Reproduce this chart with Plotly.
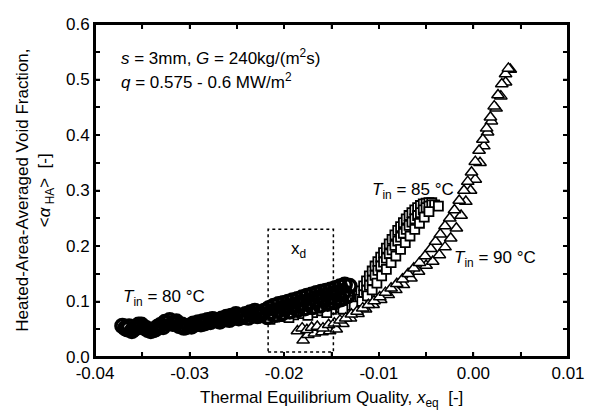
import plotly.graph_objects as go

# 80 C data (circles)
x_80 = [-0.0371, -0.0366, -0.0361, -0.0356, -0.0351, -0.0346, -0.0341, -0.0336, -0.0331, -0.0326,
        -0.0321, -0.0316, -0.0311, -0.0306, -0.0301, -0.0296, -0.0291, -0.0286, -0.0281, -0.0276,
        -0.0271, -0.0266, -0.0261, -0.0256, -0.0251, -0.0246, -0.0241, -0.0236, -0.0231, -0.0226,
        -0.0221, -0.0216, -0.0211, -0.0206, -0.0201, -0.0196, -0.0191, -0.0186, -0.0181, -0.0176,
        -0.0171, -0.0166, -0.0161, -0.0156, -0.0151, -0.0146, -0.0141, -0.0136, -0.0131]
y_80 = [0.056, 0.050, 0.047, 0.054, 0.058, 0.052, 0.047, 0.050, 0.057, 0.063,
        0.066, 0.062, 0.056, 0.053, 0.056, 0.060, 0.062, 0.064, 0.066, 0.068,
        0.066, 0.069, 0.072, 0.074, 0.077, 0.074, 0.077, 0.080, 0.083, 0.079,
        0.083, 0.088, 0.092, 0.095, 0.097, 0.099, 0.102, 0.104, 0.107, 0.110,
        0.112, 0.115, 0.117, 0.119, 0.121, 0.124, 0.127, 0.130, 0.128]
x_80b = [-0.0368, -0.0358, -0.0348, -0.0338, -0.0328, -0.0318, -0.0308, -0.0298, -0.0288, -0.0278,
         -0.0268, -0.0258, -0.0248, -0.0238, -0.0228, -0.0218, -0.0210, -0.0202, -0.0194, -0.0186,
         -0.0178, -0.0170, -0.0162, -0.0154, -0.0147, -0.0140, -0.0133]
y_80b = [0.052, 0.051, 0.053, 0.049, 0.054, 0.060, 0.058, 0.055, 0.059, 0.063,
         0.064, 0.067, 0.070, 0.071, 0.074, 0.072, 0.076, 0.079, 0.082, 0.085,
         0.088, 0.090, 0.093, 0.096, 0.099, 0.104, 0.110]
x_80c = [-0.0364, -0.0354, -0.0344, -0.0334, -0.0324, -0.0314, -0.0304, -0.0294, -0.0284, -0.0274,
         -0.0264, -0.0254, -0.0244, -0.0234, -0.0224, -0.0214, -0.0206, -0.0198, -0.0190, -0.0182,
         -0.0174, -0.0166, -0.0158, -0.0150, -0.0143, -0.0137]
y_80c = [0.055, 0.058, 0.049, 0.054, 0.061, 0.064, 0.054, 0.059, 0.061, 0.067,
         0.068, 0.071, 0.073, 0.076, 0.077, 0.081, 0.084, 0.088, 0.092, 0.096,
         0.099, 0.103, 0.106, 0.109, 0.113, 0.117]

# 85 C data (squares)
x_85 = [-0.0262, -0.0250, -0.0240, -0.0230, -0.0220, -0.0210, -0.0200, -0.0190, -0.0180, -0.0170,
        -0.0160, -0.0150, -0.0140, -0.0132, -0.0125, -0.0120, -0.0116, -0.0113, -0.0110, -0.0107,
        -0.0104, -0.0101, -0.0098, -0.0095, -0.0092, -0.0089, -0.0086, -0.0083, -0.0080, -0.0077,
        -0.0074, -0.0071, -0.0068, -0.0065, -0.0062, -0.0059, -0.0056, -0.0053, -0.0050, -0.0047,
        -0.0044, -0.0041, -0.0037]
y_85 = [0.066, 0.068, 0.068, 0.070, 0.071, 0.072, 0.073, 0.076, 0.078, 0.080,
        0.083, 0.086, 0.089, 0.093, 0.098, 0.104, 0.112, 0.120, 0.129, 0.138,
        0.147, 0.156, 0.164, 0.171, 0.178, 0.186, 0.193, 0.201, 0.209, 0.216,
        0.223, 0.230, 0.237, 0.243, 0.249, 0.255, 0.260, 0.265, 0.269, 0.272,
        0.274, 0.274, 0.272]
x_85b = [-0.0215, -0.0195, -0.0175, -0.0155, -0.0138, -0.0126, -0.0118, -0.0112, -0.0107, -0.0102,
         -0.0097, -0.0092, -0.0087, -0.0082, -0.0077, -0.0072, -0.0067, -0.0062, -0.0057, -0.0052,
         -0.0047]
y_85b = [0.068, 0.071, 0.075, 0.080, 0.086, 0.092, 0.100, 0.110, 0.121, 0.133,
         0.146, 0.158, 0.170, 0.182, 0.194, 0.206, 0.218, 0.230, 0.241, 0.252,
         0.262]
x_85c = [-0.0135, -0.0128, -0.0123, -0.0119, -0.0116, -0.0113, -0.0110, -0.0107, -0.0104, -0.0101,
         -0.0098, -0.0095, -0.0092, -0.0089, -0.0086, -0.0083, -0.0080, -0.0077, -0.0074, -0.0071,
         -0.0068, -0.0065, -0.0062, -0.0059, -0.0056, -0.0053, -0.0050, -0.0047, -0.0044]
y_85c = [0.095, 0.102, 0.110, 0.119, 0.128, 0.137, 0.146, 0.155, 0.164, 0.172,
         0.180, 0.188, 0.196, 0.204, 0.212, 0.220, 0.228, 0.235, 0.242, 0.249,
         0.255, 0.260, 0.265, 0.269, 0.273, 0.276, 0.277, 0.278, 0.278]

# 90 C data (triangles)
x_90 = [-0.0186, -0.0181, -0.0176, -0.0171, -0.0165, -0.0159, -0.0153, -0.0147, -0.0141, -0.0135,
        -0.0129, -0.0123, -0.0117, -0.0111, -0.0105, -0.0099, -0.0093, -0.0087, -0.0081, -0.0075,
        -0.0069, -0.0063, -0.0057, -0.0051, -0.0045, -0.0040, -0.0035, -0.0030, -0.0025, -0.0020,
        -0.0015, -0.0010, -0.0006, -0.0002, 0.0002, 0.0006, 0.0010, 0.0014, 0.0018, 0.0022,
        0.0026, 0.0030, 0.0034, 0.0037]
y_90 = [0.047, 0.052, 0.049, 0.053, 0.055, 0.052, 0.058, 0.061, 0.066, 0.070,
        0.077, 0.082, 0.088, 0.094, 0.101, 0.108, 0.116, 0.124, 0.132, 0.140,
        0.150, 0.160, 0.170, 0.182, 0.195, 0.208, 0.221, 0.236, 0.250, 0.265,
        0.282, 0.300, 0.316, 0.333, 0.352, 0.372, 0.392, 0.412, 0.432, 0.452,
        0.472, 0.492, 0.510, 0.520]
x_90b = [-0.0180, -0.0175, -0.0168, -0.0160, -0.0152, -0.0145, -0.0138, -0.0130, -0.0122, -0.0114,
         -0.0106, -0.0098, -0.0090, -0.0082, -0.0074, -0.0066, -0.0058, -0.0050, -0.0043, -0.0036,
         -0.0030, -0.0024, -0.0018, -0.0013, -0.0008, -0.0003, 0.0002, 0.0007, 0.0011, 0.0015,
         0.0019, 0.0024, 0.0029, 0.0034, 0.0039]
y_90b = [0.030, 0.040, 0.043, 0.045, 0.047, 0.050, 0.060, 0.070, 0.078, 0.086,
         0.094, 0.103, 0.112, 0.121, 0.130, 0.142, 0.154, 0.165, 0.172, 0.184,
         0.198, 0.214, 0.232, 0.255, 0.280, 0.300, 0.320, 0.350, 0.380, 0.405,
         0.425, 0.448, 0.470, 0.495, 0.518]

# tick positions and labels (major + minor, minor unlabeled)
x_tickvals = [-0.04, -0.035, -0.03, -0.025, -0.02, -0.015, -0.01, -0.005, 0.0, 0.005, 0.01]
x_ticktext = ["-0.04", "", "-0.03", "", "-0.02", "", "-0.01", "", "0.00", "", "0.01"]
y_tickvals = [0.0, 0.05, 0.1, 0.15, 0.2, 0.25, 0.3, 0.35, 0.4, 0.45, 0.5, 0.55, 0.6]
y_ticktext = ["0.0", "", "0.1", "", "0.2", "", "0.3", "", "0.4", "", "0.5", "", "0.6"]

# dotted box for x_d region
box_x = [-0.0217, -0.0148]
box_y = [0.009, 0.230]

FONT = "Liberation Sans, Arial, sans-serif"

fig = go.Figure()

sq = dict(symbol="square", size=9, color="white", line=dict(color="black", width=1.8))
tri = dict(symbol="triangle-up", size=11, color="white", line=dict(color="black", width=1.5))
cir = dict(symbol="circle-open", size=13, color="black", line=dict(color="black", width=3.5))

for xs, ys in [(x_85c, y_85c), (x_85, y_85), (x_85b, y_85b)]:
    fig.add_trace(go.Scatter(x=xs, y=ys, mode="markers", marker=sq, showlegend=False))
for xs, ys in [(x_90b, y_90b), (x_90, y_90)]:
    fig.add_trace(go.Scatter(x=xs, y=ys, mode="markers", marker=tri, showlegend=False))
for xs, ys in [(x_80c, y_80c), (x_80b, y_80b), (x_80, y_80)]:
    fig.add_trace(go.Scatter(x=xs, y=ys, mode="markers", marker=cir, showlegend=False))

fig.add_shape(type="rect", x0=box_x[0], x1=box_x[1], y0=box_y[0], y1=box_y[1],
              line=dict(color="black", width=1.5, dash="dot"))

# frame (top and right edges) and inside tick marks on all four sides
frame = dict(color="black", width=2)
fig.add_shape(type="line", xref="paper", yref="paper", x0=0, x1=1, y0=1, y1=1, line=frame)
fig.add_shape(type="line", xref="paper", yref="paper", x0=1, x1=1, y0=0, y1=1, line=frame)
fig.add_shape(type="line", xref="paper", yref="paper", x0=0, x1=1, y0=0, y1=0, line=frame)
fig.add_shape(type="line", xref="paper", yref="paper", x0=0, x1=0, y0=0, y1=1, line=frame)
tk = dict(color="black", width=1.5)
for v in x_tickvals[1:-1]:
    fig.add_shape(type="line", xref="x", yref="paper", x0=v, x1=v, ysizemode="pixel",
                  yanchor=0, y0=0, y1=5, line=tk)
    fig.add_shape(type="line", xref="x", yref="paper", x0=v, x1=v, ysizemode="pixel",
                  yanchor=1, y0=0, y1=-5, line=tk)
for v in y_tickvals[1:-1]:
    fig.add_shape(type="line", xref="paper", yref="y", y0=v, y1=v, xsizemode="pixel",
                  xanchor=0, x0=0, x1=5, line=tk)
    fig.add_shape(type="line", xref="paper", yref="y", y0=v, y1=v, xsizemode="pixel",
                  xanchor=1, x0=0, x1=-5, line=tk)

ann_font = dict(family=FONT, size=17, color="black")
notes = [
    ("<i>s</i> = 3mm, <i>G</i> = 240kg/(m<sup>2</sup>s)", -0.0375, 0.540),
    ("<i>q</i> = 0.575 - 0.6 MW/m<sup>2</sup>", -0.0375, 0.497),
    ("<i>T</i><sub>in</sub> = 80 °C", -0.0372, 0.106),
    ("<i>T</i><sub>in</sub> = 85 °C", -0.0109, 0.300),
    ("<i>T</i><sub>in</sub> = 90 °C", -0.0023, 0.177),
    ("x<sub>d</sub>", -0.0195, 0.192),
]
for txt, ax_, ay_ in notes:
    fig.add_annotation(x=ax_, y=ay_, xref="x", yref="y", text=txt, showarrow=False,
                       xanchor="left", yanchor="middle", font=ann_font)

fig.add_annotation(x=-0.154, y=0.5, xref="paper", yref="paper", textangle=-90,
                   text="Heated-Area-Averaged Void Fraction,",
                   showarrow=False, xanchor="center", yanchor="middle", font=ann_font)
fig.add_annotation(x=-0.104, y=0.5, xref="paper", yref="paper", textangle=-90,
                   text="&lt;<i>α</i><sub> HA</sub>&gt;  [-]",
                   showarrow=False, xanchor="center", yanchor="middle", font=ann_font)
fig.add_annotation(x=0.5, y=-0.126, xref="paper", yref="paper",
                   text="Thermal Equilibrium Quality, <i>x</i><sub>eq</sub>  [-]",
                   showarrow=False, xanchor="center", yanchor="middle", font=ann_font)

axis_common = dict(showline=True, linewidth=2, linecolor="black", mirror="allticks",
                   ticks="inside", ticklen=5, tickwidth=1.5, tickcolor="black",
                   showgrid=False, zeroline=False, ticklabeloverflow="allow",
                   tickfont=dict(family=FONT, size=17, color="black"))
fig.update_xaxes(range=[-0.04, 0.01], tickmode="array", tickvals=x_tickvals,
                 ticktext=x_ticktext, **axis_common)
fig.update_yaxes(range=[0, 0.6], tickmode="array", tickvals=y_tickvals,
                 ticktext=y_ticktext, **axis_common)

fig.update_layout(width=596, height=414, margin=dict(l=87, r=36, t=7, b=65),
                  paper_bgcolor="white", plot_bgcolor="white",
                  font=dict(family=FONT, color="black"))

fig.write_html("out.html")
